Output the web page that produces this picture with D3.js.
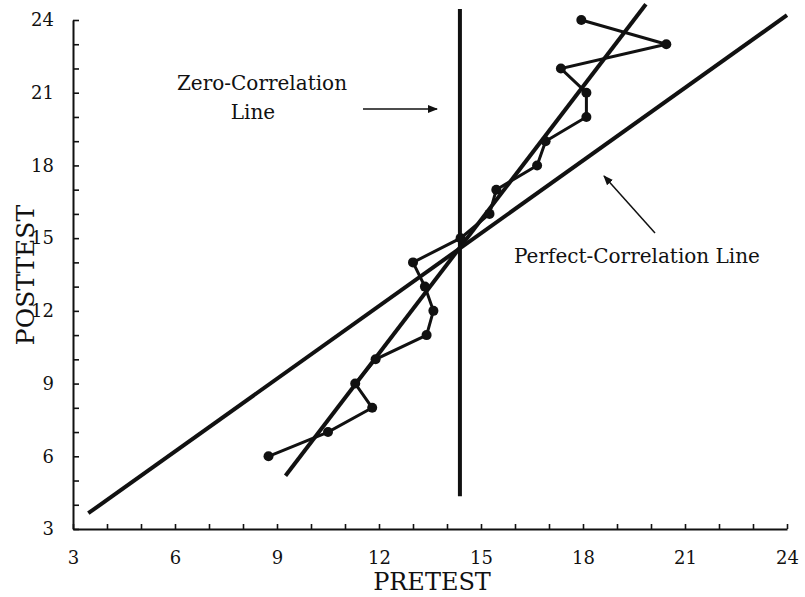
<!DOCTYPE html>
<html>
<head>
<meta charset="utf-8">
<script src="https://cdn.jsdelivr.net/npm/d3@7"></script>
<style>
  html, body { margin: 0; padding: 0; background: #fff; }
  svg { display: block; }
  text { font-family: "DejaVu Serif", "Liberation Serif", serif; fill: #111; }
</style>
</head>
<body>
<svg id="chart" width="805" height="597"></svg>
<script>
// Mean pretest score for each posttest score
const pretest  = [8.75, 10.5, 11.8, 11.3, 11.9, 13.4, 13.6, 13.35, 13.0, 14.4, 15.25, 15.45, 16.65, 16.9, 18.1, 18.1, 17.35, 20.45, 17.95];
const posttest = [6, 7, 8, 9, 10, 11, 12, 13, 14, 15, 16, 17, 18, 19, 20, 21, 22, 23, 24];

// Reference lines (endpoints in data units)
const perfectLine = [[3.45, 3.65], [24, 24.2]];
const regressionLine = [[9.25, 5.2], [19.85, 24.65]];
const zeroLine = [[14.38, 4.35], [14.38, 24.45]];

const tickValues = d3.range(3, 25, 1);
const labelledTicks = [3, 6, 9, 12, 15, 18, 21, 24];

const svg = d3.select("#chart");
const x = d3.scaleLinear().domain([3, 24]).range([73, 787]);
const y = d3.scaleLinear().domain([3, 24]).range([529, 20]);

svg.append("defs").append("marker")
  .attr("id", "arrow").attr("viewBox", "0 0 10 10")
  .attr("refX", 9).attr("refY", 5)
  .attr("markerWidth", 10).attr("markerHeight", 10)
  .attr("markerUnits", "userSpaceOnUse")
  .attr("orient", "auto")
  .append("path").attr("d", "M0,1 L10,5 L0,9 Z").attr("fill", "#111");

// Axes: ticks point inward, labels only on multiples of 3
const fmt = d => labelledTicks.includes(d) ? d : "";
const xAxis = svg.append("g").attr("transform", `translate(0,${y(3)})`)
  .call(d3.axisBottom(x).tickValues(tickValues).tickFormat(fmt).tickSizeInner(-5).tickSizeOuter(0).tickPadding(22));
const yAxis = svg.append("g").attr("transform", `translate(${x(3)},0)`)
  .call(d3.axisLeft(y).tickValues(tickValues).tickFormat(fmt).tickSizeInner(-6).tickSizeOuter(0).tickPadding(19));
[xAxis, yAxis].forEach(g => {
  g.select(".domain").attr("stroke", "#111").attr("stroke-width", 2);
  g.selectAll(".tick line").attr("stroke", "#111").attr("stroke-width", 1.6);
  g.selectAll(".tick text").attr("font-family", "DejaVu Serif").attr("font-size", 18).attr("fill", "#111");
});

const line = d3.line().x(d => x(d[0])).y(d => y(d[1]));

// Perfect-correlation, regression and zero-correlation lines
svg.append("path").attr("d", line(perfectLine)).attr("stroke", "#111").attr("stroke-width", 4).attr("fill", "none");
svg.append("path").attr("d", line(regressionLine)).attr("stroke", "#111").attr("stroke-width", 4).attr("fill", "none");
svg.append("path").attr("d", line(zeroLine)).attr("stroke", "#111").attr("stroke-width", 4).attr("fill", "none");

// Observed means, connected in order of posttest score
const pts = pretest.map((v, i) => [v, posttest[i]]);
svg.append("path").attr("d", line(pts)).attr("stroke", "#111").attr("stroke-width", 3).attr("fill", "none");
svg.selectAll("circle.pt").data(pts).join("circle")
  .attr("class", "pt")
  .attr("cx", d => x(d[0])).attr("cy", d => y(d[1])).attr("r", 5)
  .attr("fill", "#111");

// Annotations
svg.append("text").attr("x", 262).attr("y", 90).attr("text-anchor", "middle").attr("font-size", 20).text("Zero-Correlation");
svg.append("text").attr("x", 253).attr("y", 119).attr("text-anchor", "middle").attr("font-size", 20).text("Line");
svg.append("line").attr("x1", 363).attr("y1", 109).attr("x2", 437).attr("y2", 109)
  .attr("stroke", "#111").attr("stroke-width", 1.5).attr("marker-end", "url(#arrow)");

svg.append("text").attr("x", 637).attr("y", 263).attr("text-anchor", "middle").attr("font-size", 20).text("Perfect-Correlation Line");
svg.append("line").attr("x1", 655).attr("y1", 233).attr("x2", 604).attr("y2", 176)
  .attr("stroke", "#111").attr("stroke-width", 1.5).attr("marker-end", "url(#arrow)");

// Axis titles
svg.append("text").attr("x", 432).attr("y", 590).attr("text-anchor", "middle").attr("font-size", 24).text("PRETEST");
svg.append("text").attr("transform", "translate(34,275) rotate(-90)").attr("text-anchor", "middle").attr("font-size", 25).text("POSTTEST");
</script>
</body>
</html>
